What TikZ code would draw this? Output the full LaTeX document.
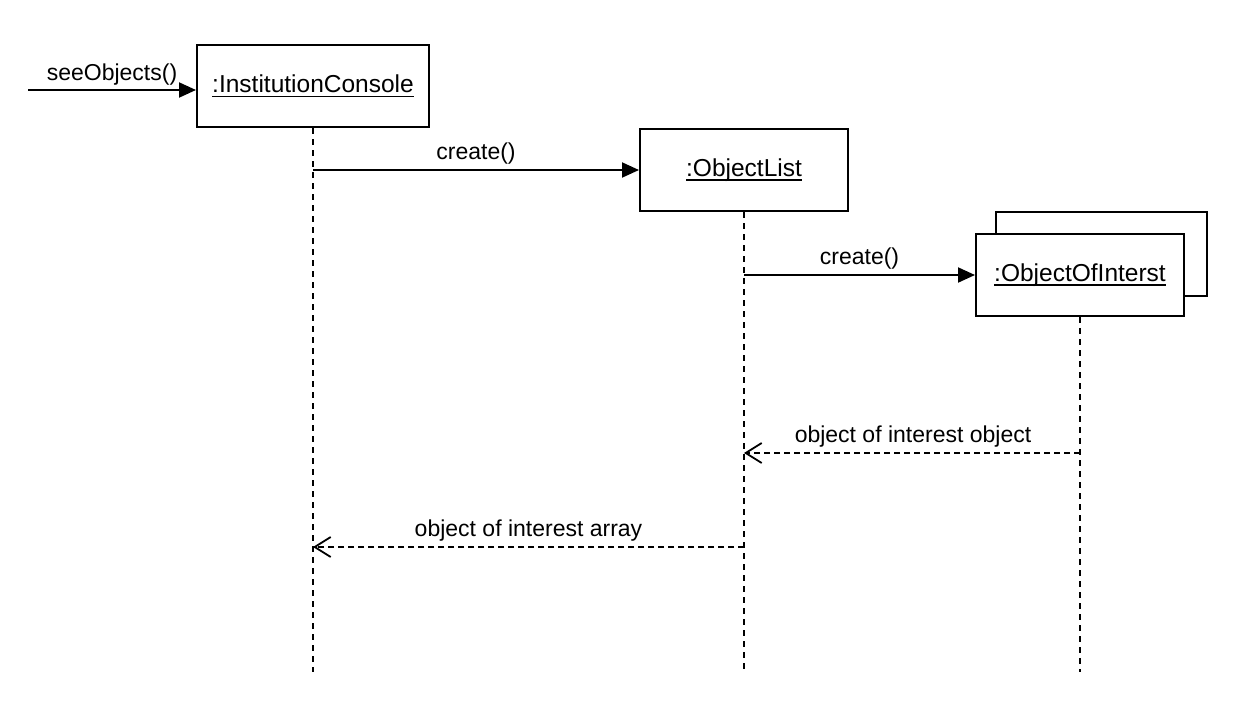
\documentclass[tikz,border=0pt]{standalone}
\usepackage{fontspec}
\setmainfont{Liberation Sans}
\usetikzlibrary{arrows.meta}
\newcommand\myul[1]{\setbox0\hbox{#1}\rlap{\rule[-4.5pt]{\wd0}{1.6pt}}\box0}
\begin{document}
\begin{tikzpicture}[x=1pt,y=-1pt,
  obj/.style={draw,line width=2pt,fill=white,minimum width=212pt,minimum height=82pt,inner sep=0pt,font=\fontsize{24.5}{28}\selectfont},
  lifeline/.style={line width=1.8pt,dash pattern=on 6pt off 5pt},
  msg/.style={line width=2pt,-{Triangle[length=17pt,width=15pt]}},
  ret/.style={line width=1.8pt,dash pattern=on 6pt off 4pt,-{Straight Barb[length=16pt,width=20pt,line width=1.8pt]}},
  lbl/.style={font=\fontsize{23}{27}\selectfont,inner sep=0pt}]
\useasboundingbox (0,0) rectangle (1249,704);
% objects
\node[obj,minimum width=232pt] (ic) at (313,86) {\myul{:InstitutionConsole}};
\node[obj,minimum width=208pt] (ol) at (744,170) {\myul{:ObjectList}};
\draw[line width=2pt,fill=white] (996,212) rectangle (1207,296);
\node[obj,minimum width=208pt] (ooi) at (1080,275) {\myul{:ObjectOfInterst}};
% lifelines
\coordinate (icend) at (313,672);
\coordinate (olend) at (744,672);
\coordinate (ooiend) at (1080,672);
\draw[lifeline] (ic.south) -- (icend);
\draw[lifeline] (ol.south) -- (olend);
\draw[lifeline] (ooi.south) -- (ooiend);
% found message
\coordinate (start) at (28,90);
\coordinate (icin) at (ic.west |- start);
\draw[msg] (start) -- (icin) node[lbl,midway,above=4pt] {seeObjects()};
% create messages
\coordinate (ic170) at (313,170);
\draw[msg] (ic170) -- (ol.west) node[lbl,midway,above=5pt] {create()};
\coordinate (ol275) at (744,275);
\draw[msg] (ol275) -- (ooi.west) node[lbl,midway,above=5pt] {create()};
% returns
\coordinate (ooi453) at (1080,453);
\coordinate (ol453) at (744,453);
\draw[ret] (ooi453) -- (ol453) node[lbl,pos=0.5,above=5pt,xshift=1pt] {object of interest object};
\coordinate (ol547) at (744,547);
\coordinate (ic547) at (313,547);
\draw[ret] (ol547) -- (ic547) node[lbl,pos=0.5,above=5pt] {object of interest array};
\end{tikzpicture}
\end{document}
